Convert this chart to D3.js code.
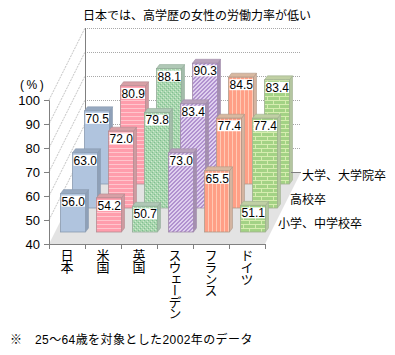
<!DOCTYPE html>
<html>
<head>
<meta charset="utf-8">
<script src="https://cdn.jsdelivr.net/npm/d3@7"></script>
<style>
  html, body { margin: 0; padding: 0; background: #fff; }
  svg { display: block; }
  text { font-family: "Liberation Sans", "Noto Sans CJK JP", sans-serif; fill: #000; }
</style>
</head>
<body>
<svg id="chart" width="395" height="355"></svg>
<script>
var countries = ["日本", "米国", "英国", "スウェーデン", "フランス", "ドイツ"]
var levels = ["小学、中学校卒", "高校卒", "大学、大学院卒"]
var elementary = [56.0, 54.2, 50.7, 73.0, 65.5, 51.1]
var highSchool = [63.0, 72.0, 79.8, 83.4, 77.4, 77.4]
var university = [70.5, 80.9, 88.1, 90.3, 84.5, 83.4]
var yTicks = [40, 50, 60, 70, 80, 90, 100]
var title = "日本では、高学歴の女性の労働力率が低い"
var footnote = "25～64歳を対象とした2002年のデータ"

var series = [elementary, highSchool, university]

var svg = d3.select("#chart")
var defs = svg.append("defs")

// one look per country: side, top, outline
var looks = [
  { id: "p0", side: "#8ea0b8", top: "#97a9c0", line: "#8a9bb0" },
  { id: "p1", side: "#cf9aa0", top: "#d8a0a6", line: "#b48c92" },
  { id: "p2", side: "#a3bcaa", top: "#b0c8b6", line: "#94ac9a" },
  { id: "p3", side: "#a48fb0", top: "#b8a2bc", line: "#a08aa8" },
  { id: "p4", side: "#d4b4a0", top: "#d8b8a0", line: "#b09888" },
  { id: "p5", side: "#b4c6a0", top: "#c0d0a4", line: "#a0b090" }
]

function pattern(id, w, h, bg) {
  var p = defs.append("pattern").attr("id", id)
    .attr("patternUnits", "userSpaceOnUse").attr("width", w).attr("height", h)
    .attr("shape-rendering", "crispEdges")
  p.append("rect").attr("width", w).attr("height", h).attr("fill", bg)
  return p
}

function pixels(p, cells, color) {
  cells.forEach(function (c) {
    p.append("rect").attr("x", c[0]).attr("y", c[1]).attr("width", 1).attr("height", 1).attr("fill", color)
  })
}

pattern("p0", 4, 4, "#b0c4de")

var stripes = pattern("p1", 4, 4, "#ff9dac")
stripes.append("rect").attr("width", 4).attr("height", 1).attr("fill", "#ffc6cd")

var dots = pattern("p2", 4, 4, "#a9d6ae")
pixels(dots, [[0, 0], [2, 2]], "#7fbf92")
pixels(dots, [[1, 3], [3, 1]], "#d0ead2")

var hatch = pattern("p3", 4, 4, "#dfd0ee")
pixels(hatch, [[0, 3], [1, 3], [1, 2], [2, 2], [2, 1], [3, 1], [3, 0], [0, 0]], "#b192cf")

var upright = pattern("p4", 4, 4, "#ff9f86")
upright.append("rect").attr("width", 1).attr("height", 4).attr("fill", "#ffc9b4")

var bricks = pattern("p5", 12, 8, "#a3d285")
bricks.append("rect").attr("y", 0).attr("width", 12).attr("height", 1).attr("fill", "#d6edb0")
bricks.append("rect").attr("y", 4).attr("width", 12).attr("height", 1).attr("fill", "#d6edb0")
bricks.append("rect").attr("x", 3).attr("y", 0).attr("width", 1).attr("height", 4).attr("fill", "#d6edb0")
bricks.append("rect").attr("x", 9).attr("y", 4).attr("width", 1).attr("height", 4).attr("fill", "#d6edb0")

var x = d3.scaleBand().domain(countries).range([49, 265])
var y = d3.scaleLinear().domain([40, 100]).range([244, 100])
var depth = d3.scaleBand().domain(levels).range([0, 36])

var barPad = 5.5
var barWidth = 25
var sideX = 3
var sideY = 4
var backX = depth.range()[1]
var backY = -2 * backX

// walls and floor
svg.append("path")
  .attr("d", `M${x.range()[0]},${y(40)} L${x.range()[0] + backX},${y(40) + backY} L${x.range()[1] + backX},${y(40) + backY} L${x.range()[1]},${y(40)} Z`)
  .attr("fill", "#e3e3e3")

var gridTicks = yTicks.slice(1)
svg.append("g").selectAll("line")
  .data(gridTicks)
  .enter()
  .append("line")
  .attr("x1", x.range()[0] + backX)
  .attr("x2", x.range()[1] + backX)
  .attr("y1", d => y(d) + backY + 0.5)
  .attr("y2", d => y(d) + backY + 0.5)
  .attr("stroke", "#a8a8a8")
  .attr("stroke-dasharray", "1,1")

svg.append("g").selectAll("line")
  .data(gridTicks)
  .enter()
  .append("line")
  .attr("x1", x.range()[0])
  .attr("x2", x.range()[0] + backX)
  .attr("y1", d => y(d))
  .attr("y2", d => y(d) + backY)
  .attr("stroke", "#c4c4c4")
  .attr("stroke-dasharray", "2,1")

svg.append("line")
  .attr("x1", x.range()[0] + backX + 0.5)
  .attr("x2", x.range()[0] + backX + 0.5)
  .attr("y1", y(100) + backY)
  .attr("y2", y(40) + backY)
  .attr("stroke", "#808080")

// bars, back row first
var rows = d3.range(levels.length).reverse()
rows.forEach(function (r) {
  var d0 = depth(levels[r])
  var offX = d0 + depth.bandwidth() / 2
  var offY = -2 * offX

  var g = svg.append("g").selectAll("g")
    .data(countries)
    .enter()
    .append("g")

  g.each(function (c, i) {
    var look = looks[i]
    var v = series[r][i]
    var x0 = x(c) + offX + barPad
    var x1 = x0 + barWidth
    var y0 = y(v) + offY
    var y1 = y(40) + offY
    var sel = d3.select(this)

    sel.append("path")
      .attr("d", `M${x1},${y0} L${x1 + sideX},${y0 - sideY} L${x1 + sideX},${y1 - sideY} L${x1},${y1} Z`)
      .attr("fill", look.side)
      .attr("stroke", look.line)
      .attr("stroke-width", 0.6)

    sel.append("path")
      .attr("d", `M${x0},${y0} L${x0 + sideX},${y0 - sideY} L${x1 + sideX},${y0 - sideY} L${x1},${y0} Z`)
      .attr("fill", look.top)
      .attr("stroke", look.line)
      .attr("stroke-width", 0.6)

    sel.append("rect")
      .attr("x", x0)
      .attr("y", y0)
      .attr("width", barWidth)
      .attr("height", y1 - y0)
      .attr("fill", `url(#${look.id})`)
      .attr("stroke", look.line)
      .attr("stroke-width", 0.8)

    sel.append("rect")
      .attr("x", x0 + 1)
      .attr("y", y0 + 2)
      .attr("width", barWidth - 1.5)
      .attr("height", 11)
      .attr("fill", "#fff")

    sel.append("text")
      .attr("x", x0 + 1 + (barWidth - 1.5) / 2)
      .attr("y", y0 + 12)
      .attr("text-anchor", "middle")
      .attr("font-size", 12)
      .text(v.toFixed(1))
  })
})

// axes
var yAxisGen = d3.axisLeft().scale(y).tickValues(yTicks).tickSize(5).tickPadding(4)
var yAxis = svg.append("g")
  .call(yAxisGen)
  .attr("transform", `translate(${x.range()[0]},0)`)
yAxis.selectAll("text").attr("font-size", 13).style("font-family", '"Liberation Sans"').attr("fill", "#000")
yAxis.selectAll("line, path").attr("stroke", "#808080")

var xTicks = d3.range(countries.length + 1)
var xEdge = d3.scaleLinear().domain([0, countries.length]).range(x.range())
var xAxisGen = d3.axisBottom().scale(xEdge).tickValues(xTicks).tickSize(5).tickSizeOuter(0).tickFormat("")
var xAxis = svg.append("g")
  .call(xAxisGen)
  .attr("transform", `translate(0,${y(40)})`)
xAxis.selectAll("line, path").attr("stroke", "#808080")

svg.append("g").selectAll("text")
  .data(countries)
  .enter()
  .append("text")
  .attr("x", d => x(d) + 17)
  .attr("y", 249)
  .attr("font-size", 13)
  .style("writing-mode", "vertical-rl")
  .style("text-orientation", "upright")
  .style("letter-spacing", "-1.4px")
  .text(d => d)

// depth labels
svg.append("g").selectAll("text")
  .data(levels)
  .enter()
  .append("text")
  .attr("x", d => x.range()[1] + depth(d) + depth.bandwidth() / 2 + 7)
  .attr("y", d => y(40) - 2 * (depth(d) + depth.bandwidth() / 2) - 8 + 4)
  .attr("font-size", 12)
  .text(d => d)

svg.append("line")
  .attr("x1", x.range()[1] + backX - 10)
  .attr("x2", x.range()[1] + backX)
  .attr("y1", y(40) + backY + 0.5)
  .attr("y2", y(40) + backY + 0.5)
  .attr("stroke", "#808080")

svg.append("text")
  .attr("x", 197)
  .attr("y", 20)
  .attr("text-anchor", "middle")
  .attr("font-size", 12)
  .text(title)

svg.append("text")
  .attr("x", 20)
  .attr("y", 89)
  .attr("font-size", 12)
  .style("letter-spacing", "2.5px")
  .text("(%)")

svg.append("text")
  .attr("x", 10)
  .attr("y", 344)
  .attr("font-size", 12)
  .text("※")

svg.append("text")
  .attr("x", 35)
  .attr("y", 344)
  .attr("font-size", 12)
  .style("letter-spacing", "0.4px")
  .text(footnote)
</script>
</body>
</html>
